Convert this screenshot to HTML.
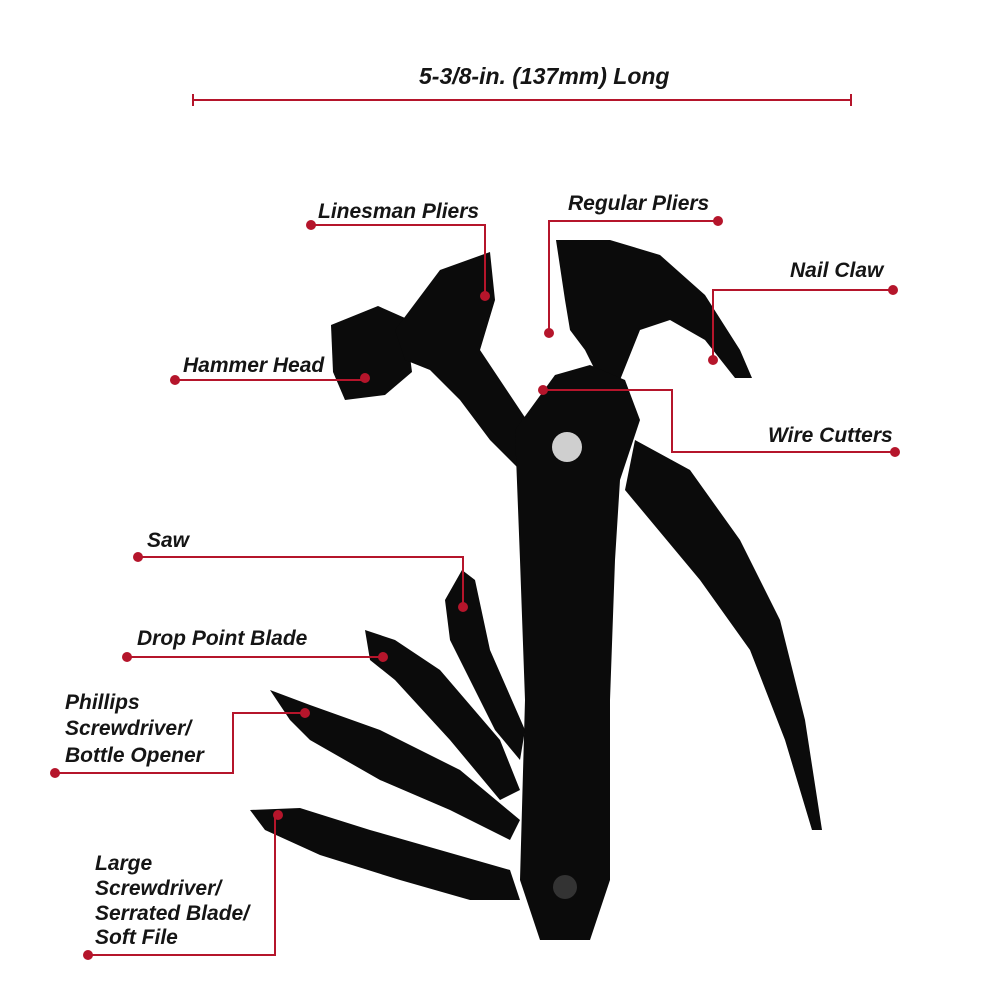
<!DOCTYPE html>
<html><head><meta charset="utf-8"><style>
html,body{margin:0;padding:0;background:#fff;width:1000px;height:1000px;overflow:hidden}
svg{display:block}
text{font-family:"Liberation Sans",sans-serif;font-weight:bold;font-style:italic;font-size:21px;fill:#151515}
</style></head><body>
<svg width="1000" height="1000" viewBox="0 0 1000 1000">
<g fill="#0b0b0b">
<!-- hammer head cylinder -->
<path d="M331,325 L378,306 L405,318 L412,372 L385,395 L345,400 L333,372 Z"/>
<!-- linesman jaw -->
<path d="M395,330 L440,270 L490,252 L495,300 L480,350 L500,380 L520,410 L540,440 L520,470 L490,440 L460,400 L430,370 L405,360 Z"/>
<!-- regular pliers/claw -->
<path d="M556,240 L610,240 L660,255 L705,295 L740,350 L752,378 L735,378 L705,340 L670,320 L640,330 L620,380 L600,380 L585,350 L570,330 L565,300 Z"/>
<!-- handle -->
<path d="M555,375 L590,365 L625,380 L640,420 L620,480 L615,560 L610,700 L610,880 L590,940 L540,940 L520,880 L525,700 L520,560 L515,430 Z"/>
<!-- curved pick arm -->
<path d="M635,440 L690,470 L740,540 L780,620 L805,720 L822,830 L812,830 L785,740 L750,650 L700,580 L650,520 L625,490 Z"/>
<!-- saw -->
<path d="M445,600 L462,570 L475,580 L490,650 L525,730 L520,760 L495,730 L470,680 L450,640 Z"/>
<!-- drop point blade -->
<path d="M365,630 L395,640 L440,670 L500,740 L520,790 L500,800 L450,740 L395,680 L370,660 Z"/>
<!-- phillips -->
<path d="M270,690 L310,705 L380,730 L460,770 L520,820 L510,840 L450,810 L380,780 L310,740 L290,720 Z"/>
<!-- large screwdriver -->
<path d="M250,810 L300,808 L370,830 L440,850 L510,870 L520,900 L470,900 L400,880 L320,855 L265,830 Z"/>
</g>
<circle cx="567" cy="447" r="15" fill="#cfcfcf"/>
<circle cx="565" cy="887" r="12" fill="#333"/>
<g stroke="#b5152b" stroke-width="2" fill="none">
<path d="M193,100 H851 M193,94 V106 M851,94 V106"/>
<path d="M311,225 H485 V296"/>
<path d="M718,221 H549 V333"/>
<path d="M893,290 H713 V360"/>
<path d="M175,380 H365"/>
<path d="M895,452 H672 V390 H543"/>
<path d="M138,557 H463 V607"/>
<path d="M127,657 H383"/>
<path d="M55,773 H233 V713 H305"/>
<path d="M88,955 H275 V815"/>
</g>
<g fill="#b5152b">
<circle cx="311" cy="225" r="5"/><circle cx="485" cy="296" r="5"/>
<circle cx="718" cy="221" r="5"/><circle cx="549" cy="333" r="5"/>
<circle cx="893" cy="290" r="5"/><circle cx="713" cy="360" r="5"/>
<circle cx="175" cy="380" r="5"/><circle cx="365" cy="378" r="5"/>
<circle cx="895" cy="452" r="5"/><circle cx="543" cy="390" r="5"/>
<circle cx="138" cy="557" r="5"/><circle cx="463" cy="607" r="5"/>
<circle cx="127" cy="657" r="5"/><circle cx="383" cy="657" r="5"/>
<circle cx="55" cy="773" r="5"/><circle cx="305" cy="713" r="5"/>
<circle cx="88" cy="955" r="5"/><circle cx="278" cy="815" r="5"/>
</g>
<text x="419" y="84" style="font-size:23px">5-3/8-in. (137mm) Long</text>
<text x="318" y="218">Linesman Pliers</text>
<text x="568" y="210">Regular Pliers</text>
<text x="790" y="277">Nail Claw</text>
<text x="183" y="372">Hammer Head</text>
<text x="768" y="442">Wire Cutters</text>
<text x="147" y="547">Saw</text>
<text x="137" y="645">Drop Point Blade</text>
<text x="65" y="709">Phillips</text>
<text x="65" y="735">Screwdriver/</text>
<text x="65" y="762">Bottle Opener</text>
<text x="95" y="870">Large</text>
<text x="95" y="895">Screwdriver/</text>
<text x="95" y="920">Serrated Blade/</text>
<text x="95" y="944">Soft File</text>
</svg>
</body></html>
